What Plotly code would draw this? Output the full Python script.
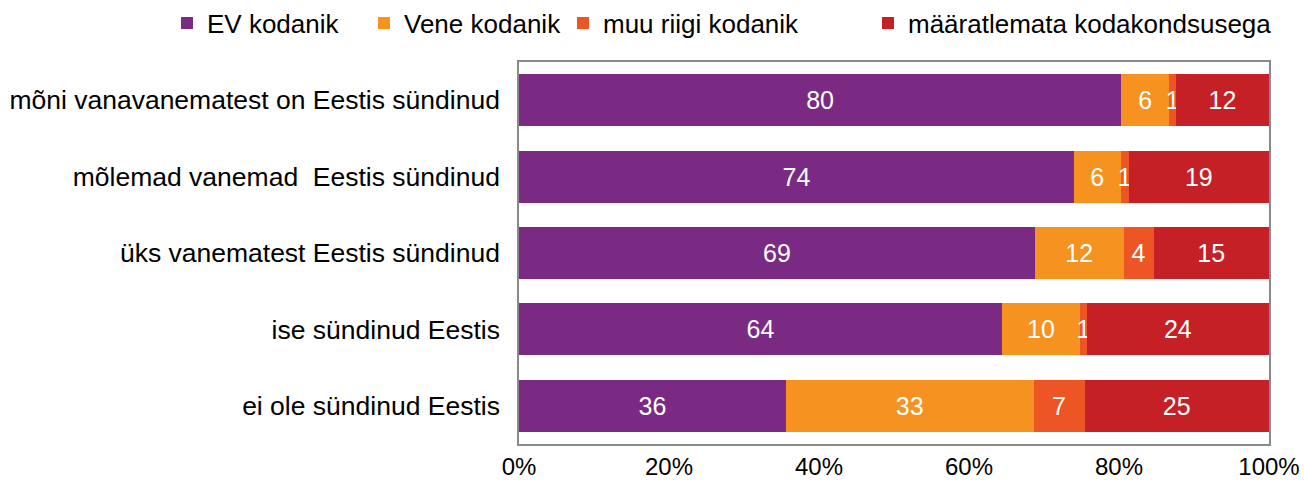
import plotly.graph_objects as go

categories = [
    "mõni vanavanematest on Eestis sündinud",
    "mõlemad vanemad  Eestis sündinud",
    "üks vanematest Eestis sündinud",
    "ise sündinud Eestis",
    "ei ole sündinud Eestis",
]
series_names = ["EV kodanik", "Vene kodanik", "muu riigi kodanik", "määratlemata kodakondsusega"]
ev_kodanik = [80.3, 74.0, 68.8, 64.4, 35.6]
vene_kodanik = [6.4, 6.2, 11.8, 10.4, 33.0]
muu_riigi = [0.9, 1.1, 4.0, 0.9, 6.8]
maaratlemata = [12.4, 18.7, 15.4, 24.3, 24.6]
tick_vals = [0, 20, 40, 60, 80, 100]
tick_text = ["0%", "20%", "40%", "60%", "80%", "100%"]

colors = ["#7A2A83", "#F6921F", "#EE5524", "#C42026"]
series_values = [ev_kodanik, vene_kodanik, muu_riigi, maaratlemata]
legend_ids = ["legend", "legend2", "legend3", "legend4"]
legend_text_x = [208, 405, 604, 909]  # pixel where each legend text starts

FONT = "Liberation Sans, Arial, sans-serif"
W, H = 1304, 487

fig = go.Figure()
for name, vals, col, lid in zip(series_names, series_values, colors, legend_ids):
    fig.add_trace(go.Bar(
        name=name, y=categories, x=vals, orientation="h",
        marker=dict(color=col, line=dict(width=0)),
        texttemplate="%{x:.0f}", textposition="inside",
        insidetextanchor="middle", constraintext="none",
        textfont=dict(color="white", size=25, family=FONT),
        legend=lid,
    ))

legend_common = dict(
    orientation="h", xanchor="left", yanchor="middle",
    xref="container", yref="container",
    font=dict(size=26, family=FONT), itemwidth=30,
    bgcolor="rgba(0,0,0,0)",
)
layout_legends = {}
for lid, tx in zip(legend_ids, legend_text_x):
    layout_legends[lid] = dict(legend_common, x=(tx - 41) / W, y=1 - 23 / H)

fig.update_layout(
    barmode="stack",
    bargap=0.32,
    width=W, height=H,
    margin=dict(l=519, r=W - 1269, t=62, b=H - 444, autoexpand=False),
    paper_bgcolor="white", plot_bgcolor="white",
    font=dict(family=FONT, color="black"),
    uniformtext=dict(minsize=25, mode="show"),
    showlegend=True,
    xaxis=dict(
        range=[0, 100], tickvals=tick_vals, ticktext=tick_text,
        showgrid=False, zeroline=False, showline=True, linecolor="#898989",
        linewidth=1.5, mirror=True, ticks="", tickfont=dict(size=24),
        fixedrange=True,
    ),
    yaxis=dict(
        categoryorder="array", categoryarray=categories, autorange="reversed",
        showgrid=False, zeroline=False, showline=True, linecolor="#898989",
        linewidth=1.5, mirror=True, ticks="", tickfont=dict(size=26.5),
        ticklabelstandoff=12,
    ),
    **layout_legends,
)

fig.write_html(
    "out.html",
    config={"displayModeBar": False},
    post_script="document.body.style.margin='0';document.body.style.overflow='hidden';",
)
